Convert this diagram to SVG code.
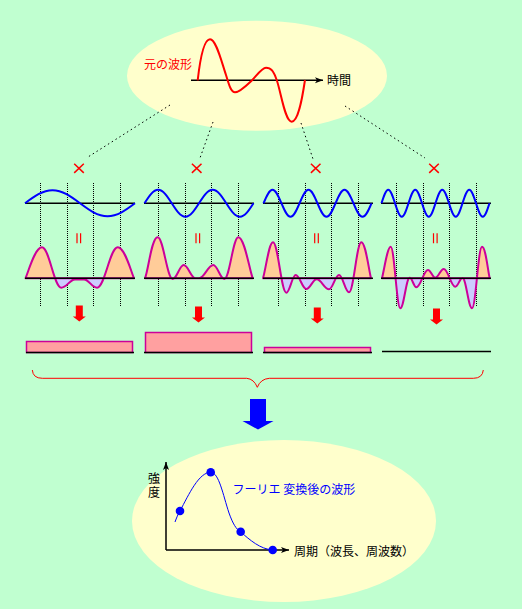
<svg xmlns="http://www.w3.org/2000/svg" xmlns:xlink="http://www.w3.org/1999/xlink" width="522" height="609" viewBox="0 0 522 609">
<style>
.bg{fill:#C0FFD0}
.ell{fill:#FFFFCC}
.ax{stroke:#000;stroke-width:1.5;fill:none}
.dotv{stroke:#000;stroke-width:1;stroke-dasharray:1 1;fill:none}
.dotd{stroke:#000;stroke-width:1;stroke-dasharray:1.5 3;fill:none}
.sine{stroke:#0000FF;stroke-width:2;fill:none}
.prod{stroke:#CC0099;stroke-width:2;fill:none;stroke-linejoin:round}
.pos{fill:#FFCC99;stroke:none}
.neg{fill:#CCCCFF;stroke:none}
.red{stroke:#FF0000;stroke-width:1.5;fill:none}
.bar{fill:#FFA0A0;stroke:#CC0099;stroke-width:1.5}
.jp{font-family:"Noto Sans CJK JP","Noto Sans CJK SC",sans-serif;font-size:12px}
</style>
<defs>
<marker id="ah" markerWidth="9" markerHeight="7" refX="8" refY="3.5" orient="auto" markerUnits="userSpaceOnUse">
<path d="M0,0.5 L8,3.5 L0,6.5 L2,3.5 Z" fill="#000"/>
</marker>
<clipPath id="above"><rect x="0" y="0" width="522" height="278.3"/></clipPath>
<clipPath id="below"><rect x="0" y="278.3" width="522" height="60"/></clipPath>
<path id="p1" d="M25.5,278.3 C29,270 35,247.3 42,247.3 C49.33,247.3 53.97,287.7 61.3,287.7 C66.5,287.7 69.8,279.5 75,279.5 L84,279.5 C88.94,279.5 92.06,287.7 97,287.7 C104.87,287.7 109.83,247.3 117.7,247.3 C124.7,247.3 130.5,270 134,278.3 Z"/>
<path id="p2" d="M145,278.3 C148.5,270 151.5,237.3 157.7,237.3 C163.4,237.3 167,279 172.7,279 C176.88,279 179.52,265 183.7,265 C188.18,265 191.02,278.3 195.5,278.3 L199,278.3 C204.43,278.3 207.87,265 213.3,265 C217.48,265 220.12,279 224.3,279 C229.62,279 232.98,237.3 238.3,237.3 C244.5,237.3 249.5,270 252.7,278.3 Z"/>
<path id="p3" d="M263,278.3 C266,268 269,242.3 273,242.3 C278.05,242.3 281.25,292.7 286.3,292.7 C289.87,292.7 292.13,275 295.7,275 C299.73,275 302.27,289 306.3,289 C310.25,289 312.75,279.3 316.7,279.3 C321.37,279.3 324.33,289.3 329,289.3 C332.8,289.3 335.2,275 339,275 C342.8,275 345.2,292.3 349,292.3 C353.67,292.3 356.63,242.3 361.3,242.3 C365.5,242.3 368.5,268 371,278.3 Z"/>
<path id="p4" d="M382,278.3 C384.5,268 387.5,246.7 390.7,246.7 C394.35,246.7 396.65,308.3 400.3,308.3 C403.87,308.3 406.13,277.7 409.7,277.7 C412.21,277.7 413.79,287.3 416.3,287.3 C420.75,287.3 423.55,270 428,270 C430.77,270 432.53,277.7 435.3,277.7 C438.49,277.7 440.51,269 443.7,269 C448.11,269 450.89,286.7 455.3,286.7 C458.04,286.7 459.76,278 462.5,278 C466.11,278 468.39,308.3 472,308.3 C475.8,308.3 478.2,246.7 482,246.7 C485.5,246.7 487.5,268 489.7,278.3 Z"/>
<polygon id="rarr" points="-3.5,0 3.5,0 3.5,11 6.5,11 0,16 -6.5,11 -3.5,11" fill="#FF0000"/>
<g id="times"><path d="M-4.8,-4.6 L4.8,4.6 M-4.8,4.6 L4.8,-4.6" class="red"/></g>
<g id="eq"><path d="M-1.8,233.3 V243.3 M1.8,233.3 V243.3" stroke="#FF0000" stroke-width="1.2" fill="none"/></g>
</defs>

<rect class="bg" x="0" y="0" width="522" height="609"/>

<g id="original">
<ellipse class="ell" cx="257" cy="75.8" rx="130" ry="55"/>
<line class="ax" x1="191" y1="80.3" x2="323" y2="80.3" marker-end="url(#ah)"/>
<path d="M197.7,80.3 C200,60 204,39.3 210,39.3 C216,39.3 221,60 226,75 C229,85 231,92.3 235,92.3 C240,92.3 247,85 252.3,80 C257,75 262,67.7 266,67.7 C271,67.7 273.5,71 276.7,80 C281,92 285,121.7 291.7,121.7 C298,121.7 302,100 305,80" stroke="#FF0000" stroke-width="2" fill="none"/>
<text class="jp" x="144" y="69" fill="#FF0000" font-size="13">元の波形</text>
<text class="jp" x="327" y="85" fill="#000" font-size="13">時間</text>
</g>

<g id="connectors">
<line class="dotd" x1="170" y1="105" x2="88" y2="157"/>
<line class="dotd" x1="213" y1="122" x2="200" y2="158"/>
<line class="dotd" x1="301" y1="123" x2="313" y2="159"/>
<line class="dotd" x1="345" y1="106" x2="425" y2="158"/>
<use xlink:href="#rarr" x="79.3" y="305.5"/>
<use xlink:href="#rarr" x="198.5" y="306.5"/>
<use xlink:href="#rarr" x="317.3" y="307.5"/>
<use xlink:href="#rarr" x="436.5" y="308.5"/>
<path d="M32.3,370 Q33,378.3 42.3,378.3 L246.7,378.3 Q254,379 257.3,387.3 Q260.5,379 269.3,378.3 L473.3,378.3 Q482.5,378.3 483.3,370" stroke="#FF0000" stroke-width="1" fill="none"/>
<polygon points="250,399 266,399 266,421 273.5,421 258,429.5 242.5,421 250,421" fill="#0000FF"/>
</g>

<g id="panel1">
<use xlink:href="#times" x="79" y="168.3"/>
<path class="dotv" d="M40.5,183 V306 M67.5,183 V306 M93.5,183 V306 M120.5,183 V306"/>
<line class="ax" x1="25" y1="203.3" x2="135" y2="203.3"/>
<path class="sine" d="M25,203.3 C34.19,196.47 42.56,190.3 52.5,190.3 S70.81,196.47 80,203.3 S97.56,216.3 107.5,216.3 S125.81,210.13 135,203.3"/>
<use xlink:href="#eq" x="78.8"/>
<use xlink:href="#p1" class="pos" clip-path="url(#above)"/>
<use xlink:href="#p1" class="neg" clip-path="url(#below)"/>
<use xlink:href="#p1" class="prod"/>
<line class="ax" x1="25" y1="278.3" x2="135" y2="278.3"/>
</g>

<g id="panel2">
<use xlink:href="#times" x="196.7" y="168.3"/>
<path class="dotv" d="M158.5,183 V306 M185.5,183 V306 M211.5,183 V306 M238.5,183 V306"/>
<line class="ax" x1="144" y1="203.3" x2="254" y2="203.3"/>
<path class="sine" d="M144.5,203.3 C149.06,196.21 153.2,189.8 158.13,189.8 S167.2,196.21 171.75,203.3 S180.45,216.8 185.38,216.8 S194.45,210.39 199,203.3 S207.7,189.8 212.63,189.8 S221.7,196.21 226.25,203.3 S234.95,216.8 239.88,216.8 S248.95,210.39 253.5,203.3"/>
<use xlink:href="#eq" x="197.8"/>
<use xlink:href="#p2" class="pos" clip-path="url(#above)"/>
<use xlink:href="#p2" class="neg" clip-path="url(#below)"/>
<use xlink:href="#p2" class="prod"/>
<line class="ax" x1="144" y1="278.3" x2="254" y2="278.3"/>
</g>

<g id="panel3">
<use xlink:href="#times" x="315.7" y="168.3"/>
<path class="dotv" d="M278.5,183 V306 M305.5,183 V306 M331.5,183 V306 M358.5,183 V306"/>
<line class="ax" x1="263" y1="203.3" x2="373" y2="203.3"/>
<path class="sine" d="M263.5,203.3 C266.51,196.21 269.25,189.8 272.5,189.8 S278.49,196.21 281.5,203.3 S287.25,216.8 290.5,216.8 S296.49,210.39 299.5,203.3 S305.25,189.8 308.5,189.8 S314.49,196.21 317.5,203.3 S323.25,216.8 326.5,216.8 S332.49,210.39 335.5,203.3 S341.25,189.8 344.5,189.8 S350.49,196.21 353.5,203.3 S359.25,216.8 362.5,216.8 S368.49,210.39 371.5,203.3"/>
<use xlink:href="#eq" x="316.5"/>
<use xlink:href="#p3" class="pos" clip-path="url(#above)"/>
<use xlink:href="#p3" class="neg" clip-path="url(#below)"/>
<use xlink:href="#p3" class="prod"/>
<line class="ax" x1="263" y1="278.3" x2="373" y2="278.3"/>
</g>

<g id="panel4">
<use xlink:href="#times" x="434" y="168.3"/>
<path class="dotv" d="M396.5,183 V306 M423.5,183 V306 M449.5,183 V306 M476.5,183 V306"/>
<line class="ax" x1="381" y1="203.3" x2="491" y2="203.3"/>
<path class="sine" d="M381.5,203.3 C383.76,196.21 385.81,189.8 388.25,189.8 S392.74,196.21 395,203.3 S399.31,216.8 401.75,216.8 S406.24,210.39 408.5,203.3 S412.81,189.8 415.25,189.8 S419.74,196.21 422,203.3 S426.31,216.8 428.75,216.8 S433.24,210.39 435.5,203.3 S439.81,189.8 442.25,189.8 S446.74,196.21 449,203.3 S453.31,216.8 455.75,216.8 S460.24,210.39 462.5,203.3 S466.81,189.8 469.25,189.8 S473.74,196.21 476,203.3 S480.31,216.8 482.75,216.8 S487.24,210.39 489.5,203.3"/>
<use xlink:href="#eq" x="435.3"/>
<use xlink:href="#p4" class="pos" clip-path="url(#above)"/>
<use xlink:href="#p4" class="neg" clip-path="url(#below)"/>
<use xlink:href="#p4" class="prod"/>
<line class="ax" x1="381" y1="278.3" x2="491" y2="278.3"/>
</g>

<g id="bars">
<rect class="bar" x="26.5" y="341.5" width="106" height="11"/>
<line class="ax" x1="26" y1="352.5" x2="134" y2="352.5"/>
<rect class="bar" x="145.5" y="332.5" width="106" height="20"/>
<line class="ax" x1="144" y1="352.5" x2="253" y2="352.5"/>
<rect class="bar" x="264.5" y="347.5" width="106" height="5"/>
<line class="ax" x1="263" y1="352.5" x2="372" y2="352.5"/>
<line class="ax" x1="382" y1="351.5" x2="491" y2="351.5"/>
</g>

<g id="result">
<ellipse class="ell" cx="284" cy="521" rx="152" ry="81"/>
<line class="ax" x1="166" y1="550" x2="166" y2="462" marker-end="url(#ah)"/>
<line class="ax" x1="166" y1="550" x2="289" y2="550" marker-end="url(#ah)"/>
<text class="jp" x="154" y="472" writing-mode="vertical-rl" letter-spacing="2" fill="#000">強度</text>
<path d="M175,522 C176.5,518 178,514 180,511 C189,494 199,472.3 210.7,472.3 C219,472.3 223,495 229,513 C233,524 236,529 240.7,532 C250,540 260,549 272.7,550" stroke="#0000FF" stroke-width="1" fill="none"/>
<circle cx="180" cy="511" r="4.3" fill="#0000FF"/>
<circle cx="210.7" cy="472.3" r="4.3" fill="#0000FF"/>
<circle cx="240.7" cy="531.7" r="4.3" fill="#0000FF"/>
<circle cx="272.7" cy="550" r="4.3" fill="#0000FF"/>
<text class="jp" x="232.5" y="494" fill="#0000FF">フーリエ 変換後の波形</text>
<text class="jp" x="294" y="555.5" fill="#000">周期（波長、周波数）</text>
</g>
</svg>
